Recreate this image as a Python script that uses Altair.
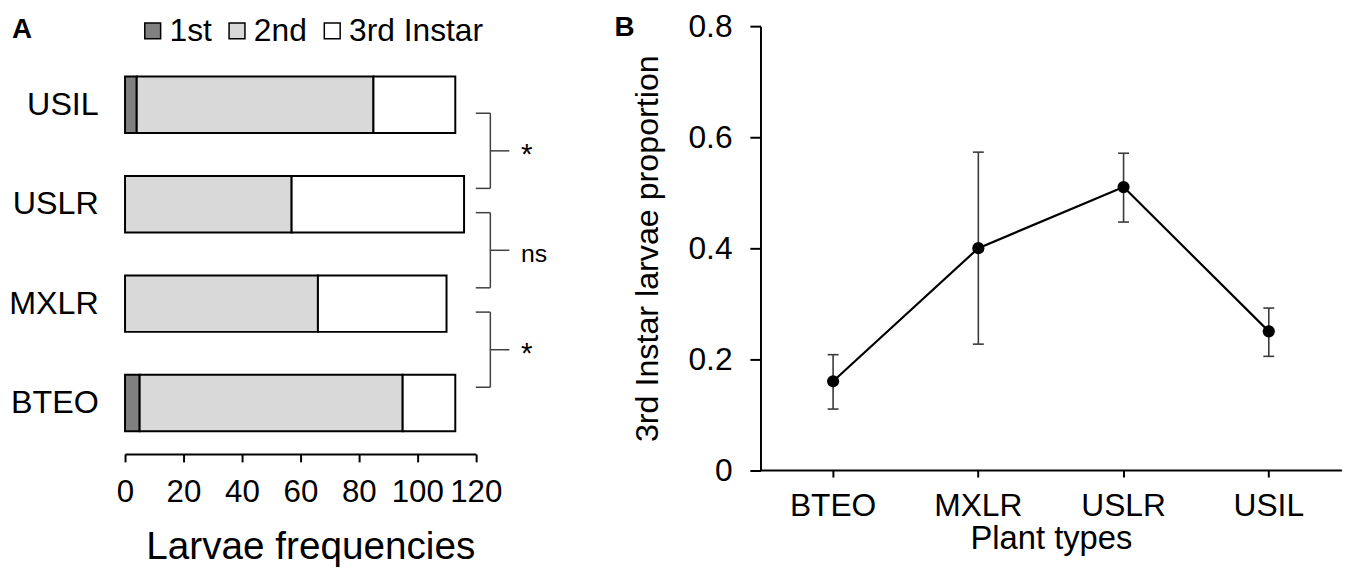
import altair as alt
import pandas as pd

# ---------------- data ----------------
plants_a = ["USIL", "USLR", "MXLR", "BTEO"]
stages = ["1st", "2nd", "3rd Instar"]
first_instar = [4, 0, 0, 5]
second_instar = [81, 57, 66, 90]
third_instar = [28, 59, 44, 18]

plants_b = ["BTEO", "MXLR", "USLR", "USIL"]
third_prop = [0.16, 0.40, 0.51, 0.25]
err_low = [0.11, 0.227, 0.447, 0.205]
err_high = [0.208, 0.573, 0.571, 0.292]

bracket_upper = ["USIL", "USLR", "MXLR"]
bracket_lower = ["USLR", "MXLR", "BTEO"]
bracket_label = ["*", "ns", "*"]

x_ticks_a = [0, 20, 40, 60, 80, 100, 120]
y_ticks_b = [0, 0.2, 0.4, 0.6, 0.8]

FONT = "Liberation Sans"

rows = []
for i, p in enumerate(plants_a):
    for j, (s, vals) in enumerate(zip(stages, [first_instar, second_instar, third_instar])):
        if vals[i] > 0:
            rows.append({"plant": p, "stage": s, "order": j, "count": vals[i]})
bars_df = pd.DataFrame(rows)
br_df = pd.DataFrame({"upper": bracket_upper, "lower": bracket_lower, "label": bracket_label})
b_df = pd.DataFrame({"plant": plants_b, "prop": third_prop, "lo": err_low, "hi": err_high})

# ---------------- panel A ----------------
WA, HA = 353.6, 431.3
y_scale_a = alt.Scale(domain=plants_a, paddingInner=0.432, paddingOuter=0.367, align=0.69)
x_scale_a = alt.Scale(domain=[0, 120], nice=False)

axis_ya = alt.Axis(domain=False, ticks=False, grid=False, labelFontSize=32.5, labelPadding=27,
                   labelColor="black", labelFont=FONT)

bars = alt.Chart(bars_df).mark_bar(stroke="black", strokeWidth=2).encode(
    y=alt.Y("plant:N", scale=y_scale_a, title=None, axis=axis_ya),
    x=alt.X("count:Q", stack="zero", scale=x_scale_a, title="Larvae frequencies",
            axis=alt.Axis(values=x_ticks_a, grid=False, labelOverlap=False, labelFlush=False,
                          domainColor="black", domainWidth=2,
                          tickColor="black", tickWidth=2, tickSize=8, labelFontSize=31.5,
                          labelPadding=15, labelColor="black", labelFont=FONT,
                          titleFontSize=39, titleFontWeight="normal", titleColor="black",
                          titleFont=FONT, titlePadding=20, titleX=WA / 2 + 10)),
    color=alt.Color("stage:N",
                    scale=alt.Scale(domain=stages, range=["#808080", "#d9d9d9", "#ffffff"]),
                    legend=alt.Legend(title=None, orient="none", legendX=11.9, legendY=-11.2,
                                      direction="horizontal", columns=3, symbolType="square",
                                      symbolSize=256, symbolStrokeColor="black",
                                      symbolStrokeWidth=1.5, symbolOpacity=1,
                                      labelFontSize=32, labelFont=FONT, labelColor="black",
                                      labelOffset=1, columnPadding=9, padding=0)),
    order=alt.Order("order:Q"),
)

MID_OFF = 18.0  # pixel offset of brace middle below the end of the upper band
BR_COLOR = "#404040"
br_vert = alt.Chart(br_df).mark_rule(color=BR_COLOR, strokeWidth=1.5).encode(
    x=alt.datum(125),
    y=alt.Y("upper:N", bandPosition=0.65, title=None, axis=axis_ya),
    y2=alt.Y2("lower:N", bandPosition=0.22),
)
br_top = alt.Chart(br_df).mark_rule(color=BR_COLOR, strokeWidth=1.5).encode(
    x=alt.datum(120), x2=alt.datum(125),
    y=alt.Y("upper:N", bandPosition=0.65, title=None, axis=axis_ya),
)
br_bot = alt.Chart(br_df).mark_rule(color=BR_COLOR, strokeWidth=1.5).encode(
    x=alt.datum(120), x2=alt.datum(125),
    y=alt.Y("lower:N", bandPosition=0.22, title=None, axis=axis_ya),
)
br_mid = alt.Chart(br_df).mark_rule(color=BR_COLOR, strokeWidth=1.5, yOffset=MID_OFF).encode(
    x=alt.datum(125), x2=alt.datum(131.5),
    y=alt.Y("upper:N", bandPosition=1, title=None, axis=axis_ya),
)
star_txt = alt.Chart(br_df).transform_filter("datum.label == '*'").mark_text(
    align="left", baseline="alphabetic", dy=MID_OFF + 13, fontSize=30, font=FONT, color="black"
).encode(x=alt.datum(135.5), y=alt.Y("upper:N", bandPosition=1, title=None, axis=axis_ya),
         text="label:N")
ns_txt = alt.Chart(br_df).transform_filter("datum.label == 'ns'").mark_text(
    align="left", baseline="alphabetic", dy=MID_OFF + 12, fontSize=25, font=FONT, color="black"
).encode(x=alt.datum(135.5), y=alt.Y("upper:N", bandPosition=1, title=None, axis=axis_ya),
         text="label:N")

label_a = alt.Chart(pd.DataFrame({"t": ["A"]})).mark_text(
    align="left", baseline="alphabetic", fontSize=28, fontWeight="bold", font=FONT, color="black"
).encode(x=alt.value(-114), y=alt.value(12.3), text="t:N")

panel_a = alt.layer(bars, br_vert, br_top, br_bot, br_mid, star_txt, ns_txt, label_a).properties(
    width=WA, height=HA
)

# ---------------- panel B ----------------
WB, HB = 585.7, 447.6
x_b = alt.X("plant:N", scale=alt.Scale(domain=plants_b, paddingInner=0, paddingOuter=0),
            title="Plant types",
            axis=alt.Axis(labelAngle=0, domainColor="black", domainWidth=2, tickColor="black",
                          tickWidth=2, tickSize=7, labelFontSize=32, labelPadding=14,
                          labelColor="black", labelFont=FONT, titleFontSize=33,
                          titleFontWeight="normal", titleColor="black", titleFont=FONT,
                          titlePadding=1))
y_b = alt.Y("prop:Q", scale=alt.Scale(domain=[0, 0.8], nice=False),
            title="3rd Instar larvae proportion",
            axis=alt.Axis(values=y_ticks_b, grid=False,
                          labelExpr="datum.value == 0 ? '0' : format(datum.value, '.1f')",
                          domainColor="black", domainWidth=2, tickColor="black", tickWidth=2,
                          tickSize=10.7, labelFontSize=32, labelPadding=18, labelColor="black",
                          labelFont=FONT, titleFontSize=32.5, titleFontWeight="normal",
                          titleColor="black", titleFont=FONT, titlePadding=24))

base_b = alt.Chart(b_df)
err_rule = base_b.mark_rule(color="#3a3a3a", strokeWidth=1.6).encode(
    x=x_b, y=alt.Y("lo:Q"), y2=alt.Y2("hi:Q"))
err_caps = base_b.transform_fold(["lo", "hi"], as_=["which", "val"]).mark_tick(
    color="#3a3a3a", thickness=1.6, size=11, opacity=1).encode(x=x_b, y=alt.Y("val:Q"))
line_b = base_b.mark_line(color="black", strokeWidth=2.2).encode(x=x_b, y=y_b)
pts_b = base_b.mark_circle(color="black", size=150, opacity=1).encode(x=x_b, y=y_b)
label_b = alt.Chart(pd.DataFrame({"t": ["B"]})).mark_text(
    align="left", baseline="alphabetic", fontSize=28, fontWeight="bold", font=FONT, color="black"
).encode(x=alt.value(-147.3), y=alt.value(10), text="t:N")

panel_b = alt.layer(line_b, err_rule, err_caps, pts_b, label_b).properties(width=WB, height=HB)

chart = (
    alt.hconcat(panel_a, panel_b, spacing=286.7, bounds="flush", padding=0)
    .configure(font=FONT)
    .configure_view(stroke="transparent", strokeWidth=0)
)

chart.save("out.html", embed_options={"renderer": "svg", "actions": False})
